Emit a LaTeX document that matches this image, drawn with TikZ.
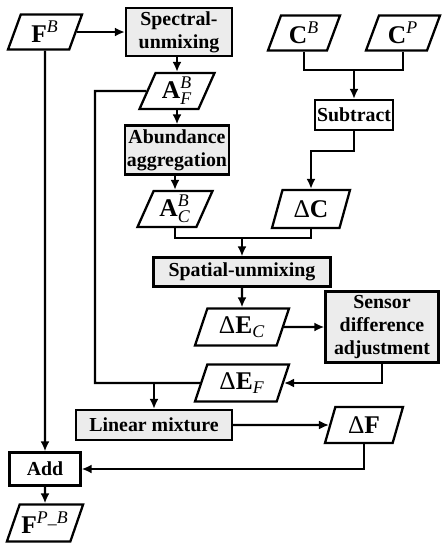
\documentclass[tikz,border=0pt]{standalone}
\usepackage{amsmath}
\usepackage{fontspec}
\setmainfont{Liberation Serif}
\usetikzlibrary{shapes.geometric,arrows.meta}

\begin{document}
\begin{tikzpicture}[x=0.2mm, y=-0.2mm,
  proc/.style={draw, line width=1.3pt, fill=gray!15, align=center, inner sep=1pt, font=\bfseries\fontsize{11.3}{13}\selectfont},
  caja/.style={draw, line width=1.3pt, fill=white, align=center, inner sep=1pt, font=\bfseries\fontsize{11.3}{13}\selectfont},
  dato/.style={draw, line width=1.3pt, trapezium, trapezium left angle=63, trapezium right angle=117, trapezium stretches body,
               minimum width=15mm, minimum height=7.2mm, inner sep=1pt, font=\fontsize{14.5}{16}\selectfont},
  flujo/.style={->, >={Latex[length=2mm,width=1.8mm]}, line width=1.3pt},
  linea/.style={line width=1.3pt}]
\useasboundingbox (0,0) rectangle (446,550);
\node[dato, minimum width=14.8mm, minimum height=7mm] (FB) at (45,32) {$\textbf{F}^{\textit{B}}$};
\node[proc, minimum width=21.2mm, minimum height=9.6mm] (spec) at (179,32) {Spectral-\\unmixing};
\node[dato] (AFB) at (177,91) {$\textbf{A}_{\textit{F}}^{\textit{B}}$};
\node[proc, minimum width=20.6mm, minimum height=9.8mm] (abun) at (177,150) {Abundance\\aggregation};
\node[dato] (ACB) at (175,209) {$\textbf{A}_{\textit{C}}^{\textit{B}}$};
\node[dato, minimum width=15.6mm, minimum height=7.6mm] (dC) at (311,209) {Δ$\textbf{C}$};
\node[dato, minimum width=14.4mm, minimum height=7mm] (CB) at (304,33) {$\textbf{C}^{\textit{B}}$};
\node[dato, minimum width=14.8mm, minimum height=7mm] (CP) at (403,33) {$\textbf{C}^{\textit{P}}$};
\node[caja, minimum width=15.4mm, minimum height=6mm] (sub) at (354,115) {Subtract};
\coordinate (jC) at (354,70);
\coordinate (jS) at (242,238);
\node[proc, minimum width=35.4mm, minimum height=5.8mm] (spat) at (242,272) {Spatial-unmixing};
\node[dato, minimum width=18.8mm, minimum height=7.4mm] (dEC) at (242,327) {Δ$\textbf{E}_{\textit{C}}$};
\node[proc, minimum width=22.6mm, minimum height=14.2mm] (sens) at (382,327) {Sensor\\difference\\adjustment};
\node[dato, minimum width=18.8mm, minimum height=7.4mm] (dEF) at (242,383) {Δ$\textbf{E}_{\textit{F}}$};
\coordinate (cA) at (95,383);
\node[proc, minimum width=31.2mm, minimum height=6mm] (lin) at (154,425) {Linear mixture};
\node[dato, minimum width=15.6mm] (dF) at (364,425) {Δ$\textbf{F}$};
\node[caja, minimum width=14.2mm, minimum height=6.6mm] (add) at (45,469) {Add};
\node[dato, minimum width=14.8mm, minimum height=7.4mm] (FPB) at (45,523) {$\textbf{F}^{\text{\itshape P\_B}}$};
% left branch
\draw[flujo] (FB.east) -- (spec.west);
\draw[flujo] (spec.south -| AFB.north) -- (AFB.north);
\draw[flujo] (AFB.south) -- (abun.north -| AFB.south);
\draw[flujo] (abun.south -| ACB.north) -- (ACB.north);
% right branch
\draw[linea] (CB.south) |- (jC) -| (CP.south);
\draw[flujo] (jC) -- (sub.north);
\draw[flujo] (sub.south) -- ++(0,20) -| (dC.north);
\draw[linea] (ACB.south) |- (jS) -| (dC.south);
\draw[flujo] (jS) -- (spat.north);
\draw[flujo] (spat.south) -- (dEC.north);
\draw[flujo] (dEC.east) -- (sens.west);
\draw[flujo] (sens.south) |- (dEF.east);
\draw[linea] (AFB.west) -| (cA) -- (dEF.west);
\draw[flujo] (lin.north |- cA) -- (lin.north);
\draw[flujo] (lin.east) -- (dF.west);
\draw[flujo] (dF.south) |- (add.east);
\draw[flujo] (FB.south) -- (add.north);
\draw[flujo] (add.south) -- (FPB.north);
\end{tikzpicture}
\end{document}
